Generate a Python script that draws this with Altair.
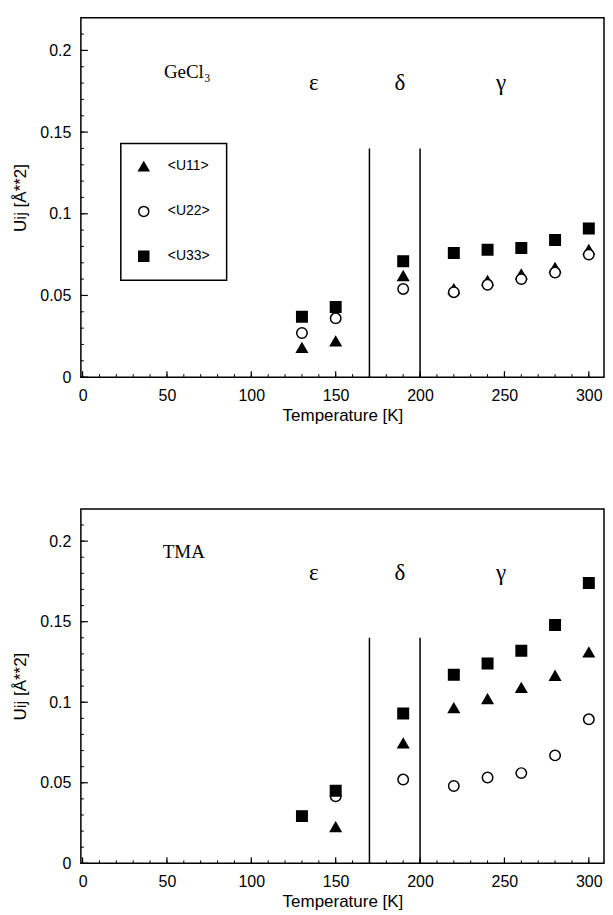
import altair as alt
import pandas as pd

# ---------------- data ----------------
series_names = ["<U11>", "<U22>", "<U33>"]
series_shapes = ["triangle-up", "circle", "square"]
series_fills = ["black", "white", "black"]
series_strokes = ["black", "black", "black"]

# GeCl3 panel
ge_T = [130, 150, 190, 220, 240, 260, 280, 300]
ge_u11 = [0.018, 0.022, 0.062, 0.054, 0.059, 0.063, 0.067, 0.078]
ge_u22 = [0.027, 0.036, 0.054, 0.052, 0.0565, 0.060, 0.064, 0.075]
ge_u33 = [0.037, 0.043, 0.071, 0.076, 0.078, 0.079, 0.084, 0.091]

# TMA panel
tma_T_u11 = [150, 190, 220, 240, 260, 280, 300]
tma_u11 = [0.0226, 0.0745, 0.0964, 0.102, 0.109, 0.1165, 0.131]
tma_T_u22 = [150, 190, 220, 240, 260, 280, 300]
tma_u22 = [0.0416, 0.052, 0.048, 0.0533, 0.056, 0.067, 0.0894]
tma_T_u33 = [130, 150, 190, 220, 240, 260, 280, 300]
tma_u33 = [0.0293, 0.045, 0.093, 0.117, 0.124, 0.132, 0.148, 0.174]

phase_bounds = [170, 200]
phase_line_top = 0.14
phase_labels = ["ε", "δ", "γ"]
phase_label_x = [137, 188, 248]
phase_label_y = 0.18

panel_names = ["GeCl₃", "TMA"]
panel_name_x = [62, 60]
panel_name_y = [0.187, 0.193]

x_major = [0, 50, 100, 150, 200, 250, 300]
x_minor = list(range(0, 301, 10))
y_major = [0, 0.05, 0.1, 0.15, 0.2]
y_minor = [i / 100 for i in range(0, 22)]

X_DOMAIN = [-1, 309]
Y_DOMAIN = [0, 0.22]


def make_df(tu11, u11, tu22, u22, tu33, u33):
    rows = []
    for t, v in zip(tu11, u11):
        rows.append({"T": t, "U": v, "series": series_names[0]})
    for t, v in zip(tu22, u22):
        rows.append({"T": t, "U": v, "series": series_names[1]})
    for t, v in zip(tu33, u33):
        rows.append({"T": t, "U": v, "series": series_names[2]})
    return pd.DataFrame(rows)


def panel(df, idx, w, h, legend):
    xs = alt.Scale(domain=X_DOMAIN, nice=False, zero=False)
    ys = alt.Scale(domain=Y_DOMAIN, nice=False)
    xaxis = alt.Axis(values=x_major, format="d", ticks=False, domain=False, grid=False,
                     title="Temperature  [K]", labelPadding=10, titlePadding=4)
    yaxis = alt.Axis(values=y_major, format="~g", ticks=False, domain=False, grid=False,
                     title="Uij  [Å**2]", labelPadding=10, titlePadding=10)

    if legend:
        leg = alt.Legend(title=None, orient="none", legendX=40, legendY=126,
                         strokeColor="black", padding=16, rowPadding=29,
                         labelOffset=17, labelFontSize=14, labelFont="Liberation Sans",
                         symbolStrokeColor="black", symbolStrokeWidth=1.5, symbolSize=100)
    else:
        leg = None

    pts = alt.Chart(df).mark_point(strokeWidth=1.5, opacity=1, fillOpacity=1).encode(
        x=alt.X("T:Q", scale=xs, axis=xaxis),
        y=alt.Y("U:Q", scale=ys, axis=yaxis),
        shape=alt.Shape("series:N", scale=alt.Scale(domain=series_names, range=series_shapes), legend=leg),
        fill=alt.Fill("series:N", scale=alt.Scale(domain=series_names, range=series_fills), legend=leg),
        stroke=alt.Stroke("series:N", scale=alt.Scale(domain=series_names, range=series_strokes), legend=leg),
        size=alt.value(110),
        order=alt.Order("o:Q"),
    )

    lines_df = pd.DataFrame({"T": phase_bounds, "y0": [0] * len(phase_bounds),
                             "y1": [phase_line_top] * len(phase_bounds)})
    vlines = alt.Chart(lines_df).mark_rule(color="black", strokeWidth=1.5).encode(
        x=alt.X("T:Q", scale=xs), y=alt.Y("y0:Q", scale=ys), y2="y1:Q")

    lab_df = pd.DataFrame({"T": phase_label_x, "U": [phase_label_y] * 3, "t": phase_labels})
    labs = alt.Chart(lab_df).mark_text(font="Liberation Serif", fontSize=23, color="black").encode(
        x=alt.X("T:Q", scale=xs), y=alt.Y("U:Q", scale=ys), text="t:N")

    name_df = pd.DataFrame({"T": [panel_name_x[idx]], "U": [panel_name_y[idx]], "t": [panel_names[idx]]})
    name = alt.Chart(name_df).mark_text(font="Liberation Serif", fontSize=19, color="black").encode(
        x=alt.X("T:Q", scale=xs), y=alt.Y("U:Q", scale=ys), text="t:N")

    xmaj = alt.Chart(pd.DataFrame({"T": x_major})).mark_rule(color="black", strokeWidth=1.2).encode(
        x=alt.X("T:Q", scale=xs), y=alt.value(h), y2=alt.value(h - 6))
    xmin = alt.Chart(pd.DataFrame({"T": x_minor})).mark_rule(color="black", strokeWidth=1).encode(
        x=alt.X("T:Q", scale=xs), y=alt.value(h), y2=alt.value(h - 3))
    ymaj = alt.Chart(pd.DataFrame({"U": y_major})).mark_rule(color="black", strokeWidth=1.2).encode(
        y=alt.Y("U:Q", scale=ys), x=alt.value(0), x2=alt.value(7))
    ymin = alt.Chart(pd.DataFrame({"U": y_minor})).mark_rule(color="black", strokeWidth=1).encode(
        y=alt.Y("U:Q", scale=ys), x=alt.value(0), x2=alt.value(3))

    return alt.layer(xmin, xmaj, ymin, ymaj, vlines, labs, name, pts).properties(width=w, height=h)


ge_df = make_df(ge_T, ge_u11, ge_T, ge_u22, ge_T, ge_u33)
ge_df["o"] = range(len(ge_df))
tma_df = make_df(tma_T_u11, tma_u11, tma_T_u22, tma_u22, tma_T_u33, tma_u33)
tma_df["o"] = range(len(tma_df))

top = panel(ge_df, 0, 524, 360, True)
bottom = panel(tma_df, 1, 524, 355, False)

chart = alt.vconcat(top, bottom, spacing=84).resolve_scale(
    shape="independent", fill="independent", stroke="independent").resolve_legend(
    shape="independent", fill="independent", stroke="independent").configure_view(
    stroke="black", strokeWidth=1.5).configure_axis(
    labelFont="Liberation Sans", labelFontSize=16, labelColor="black",
    titleFont="Liberation Sans", titleFontSize=17, titleFontWeight="normal", titleColor="black"
).configure_legend(strokeWidth=1.5).properties(padding={"left": 3, "top": 8, "right": 0, "bottom": 0})

chart.save("out.html", embed_options={"renderer": "svg", "actions": False})
